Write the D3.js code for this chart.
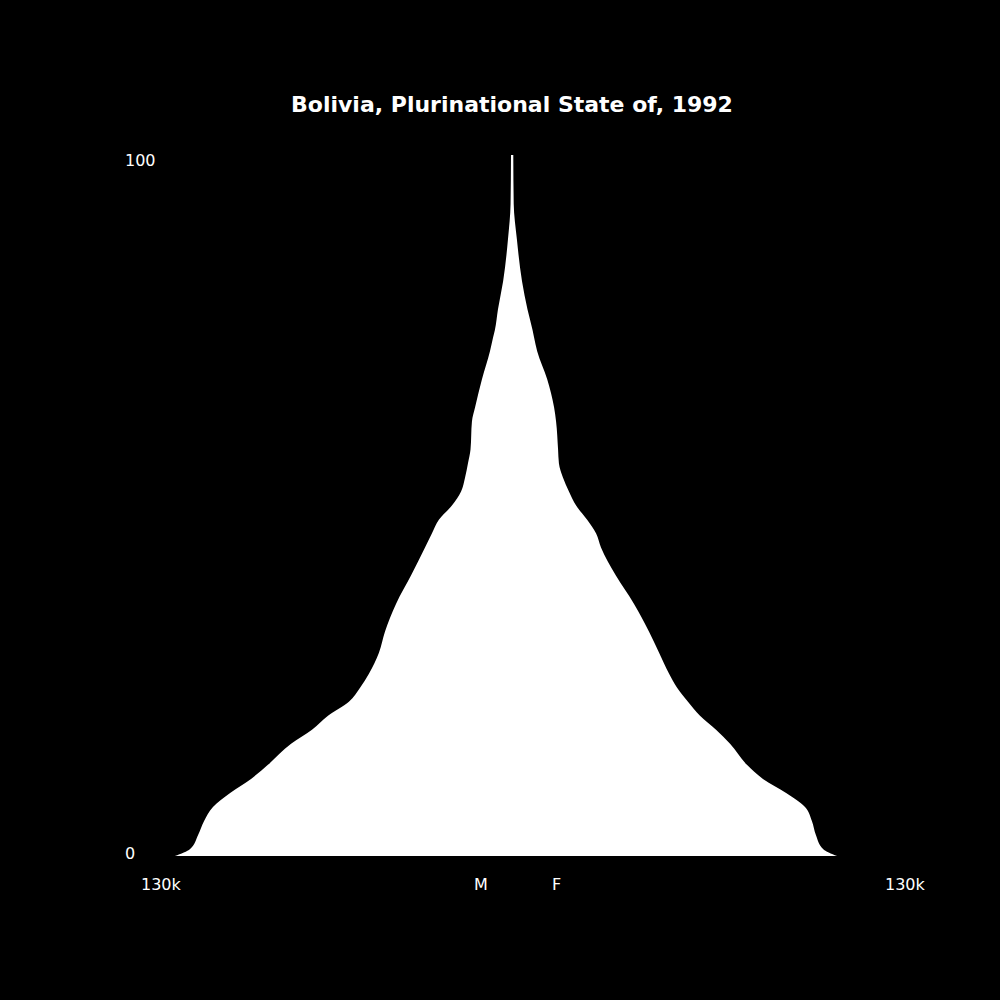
<!DOCTYPE html>
<html>
<head>
<meta charset="utf-8">
<script src="https://cdn.jsdelivr.net/npm/d3@7"></script>
<style>
  html, body { margin: 0; padding: 0; background: #000; }
  text { font-family: "DejaVu Sans", sans-serif; fill: #fff; }
</style>
</head>
<body>
<svg class="pyramid"></svg>
<script>
// ages, population per single year of age
const ages = [0, 1, 3, 5, 7, 9, 11, 13, 16, 18, 20, 22, 24, 26, 29, 32, 36, 40, 44, 46, 48,
    50, 52, 54, 56, 58, 62, 64, 68, 72, 74, 75, 78, 82, 88, 93, 100];
const male = [117800, 112500, 109700, 107600, 104500, 98500, 91200, 85300, 77200, 69900, 64300,
    57000, 53100, 50000, 46500, 44400, 40500, 35300, 30400, 28000, 25500,
    21000, 17800, 16400, 15400, 14500, 14000, 12900, 10500, 7700, 6600, 6000, 4900, 3100, 1400, 500, 350];
const female = [113600, 108700, 106200, 104800, 102400, 95800, 87700, 82100, 76200, 71300, 65700,
    61500, 57700, 54900, 51400, 47900, 42600, 36300, 31100, 29400, 26200,
    22400, 19900, 17800, 16400, 16100, 15400, 14700, 12300, 8800, 7700, 7200, 5400, 3500, 1700, 600, 450];
const title = 'Bolivia, Plurinational State of, 1992';
const maxPop = 130000;
const ageTicks = [0, 100];

const WIDTH = 1000, HEIGHT = 1000,
    CENTER = 512;

const data = ages.map((a, i) => ({age: a, m: male[i], f: female[i]}));

const svg = d3.select('.pyramid')
    .attr('width', WIDTH)
    .attr('height', HEIGHT);

const xScale = d3.scaleLinear()
    .domain([0, maxPop])
    .range([0, 372]);

const yScale = d3.scaleLinear()
    .domain([0, 100])
    .range([856, 155]);

const area = d3.area()
    .curve(d3.curveMonotoneY)
    .y(d => yScale(d.age))
    .x0(d => CENTER - xScale(d.m))
    .x1(d => CENTER + xScale(d.f));

svg.append('path')
    .datum(data)
    .attr('d', area)
    .style('fill', 'white');

// title
svg.append('text')
    .attr('x', CENTER)
    .attr('y', 112)
    .attr('text-anchor', 'middle')
    .style('font-size', '22px')
    .style('font-weight', 'bold')
    .text(title);

// age labels
svg.selectAll('.age-label')
    .data(ageTicks)
    .join('text')
    .attr('class', 'age-label')
    .attr('x', 125)
    .attr('y', d => d === 100 ? yScale(d) + 11 : yScale(d) + 3)
    .style('font-size', '16px')
    .text(d => d);

// population labels, both sides
const bottomY = 890;
const popLabel = `${maxPop / 1000}k`;

svg.append('text')
    .attr('x', CENTER - xScale(maxPop) + 1)
    .attr('y', bottomY)
    .style('font-size', '16px')
    .text(popLabel);

svg.append('text')
    .attr('x', CENTER + xScale(maxPop) + 1)
    .attr('y', bottomY)
    .style('font-size', '16px')
    .text(popLabel);

svg.append('text')
    .attr('x', CENTER - 38)
    .attr('y', bottomY)
    .style('font-size', '16px')
    .text('M');

svg.append('text')
    .attr('x', CENTER + 40)
    .attr('y', bottomY)
    .style('font-size', '16px')
    .text('F');
</script>
</body>
</html>
